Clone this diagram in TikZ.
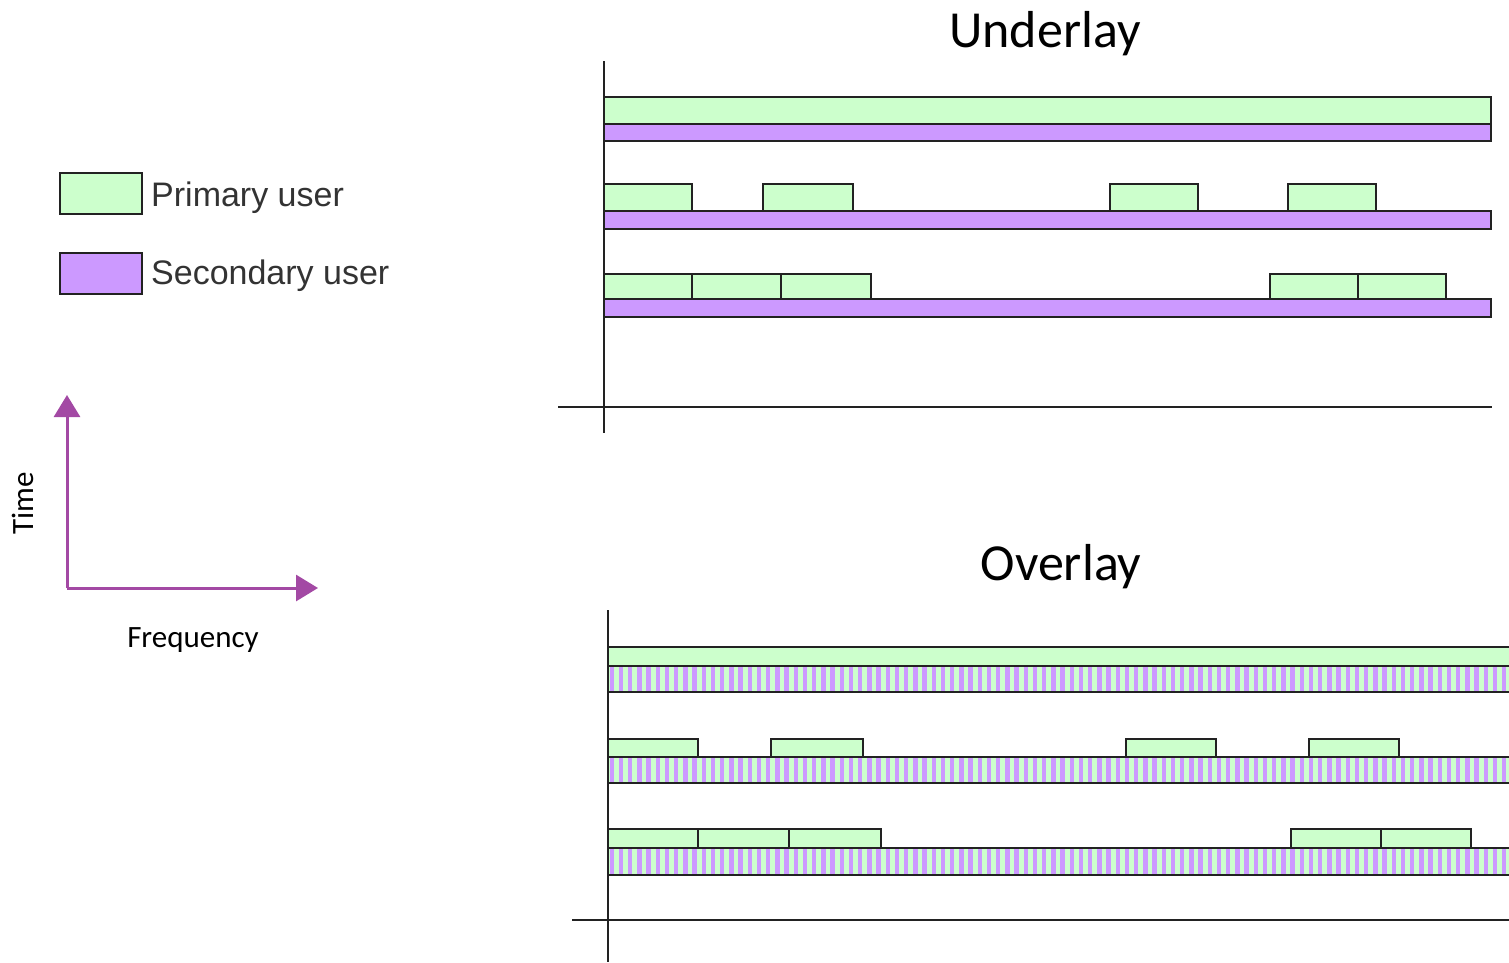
\documentclass[tikz,border=0pt]{standalone}
\usepackage{fontspec}
\setmainfont{Carlito}
\newfontfamily\legendfont{Liberation Sans}
\usetikzlibrary{arrows.meta}
\definecolor{pugreen}{HTML}{CCFFCC}
\definecolor{supurple}{HTML}{CC99FF}
\definecolor{axisarrow}{HTML}{A349A4}
\definecolor{edge}{HTML}{222222}
\tikzset{
  pubar/.style={fill=pugreen, draw=edge, line width=1.8pt},
  subar/.style={fill=supurple, draw=edge, line width=1.8pt},
  axisline/.style={draw=edge, line width=2pt},
  title/.style={font=\fontsize{52}{60}\selectfont, anchor=base},
  legendtext/.style={font=\legendfont\fontsize{34}{40}\selectfont, text=black!80, anchor=base west, inner sep=0pt},
  dirarrow/.style={draw=axisarrow, line width=3pt, -{Triangle[width=26pt,length=22pt]}},
  dirlabel/.style={font=\fontsize{31}{36}\selectfont}
}
% striped bar: green ground with thin purple vertical stripes (period 9.2)
\newcommand\sharedbar[4]{%
  \begin{scope}
    \clip (#1,#2) rectangle (#3,#4);
    \fill[pugreen] (#1,#2) rectangle (#3,#4);
    \foreach \k in {0,...,98}{
      \fill[supurple] ({#1+\k*9.2+1.5},#2) rectangle ({#1+\k*9.2+6},#4);
    }
  \end{scope}
  \draw[draw=edge, line width=1.8pt] (#1,#2) rectangle (#3,#4);
}
\begin{document}
\begin{tikzpicture}[x=1pt,y=-1pt]
\useasboundingbox (0,0) rectangle (1509,962);

% ---------- legend ----------
\draw[pubar] (60,173) rectangle (142,214);
\node[legendtext] (lgp) at (151,206) {Primary user};
\draw[subar] (60,253) rectangle (142,294);
\node[legendtext] (lgs) at (151,284) {Secondary user};

% ---------- time / frequency directions ----------
\coordinate (origin) at (67,588);
\coordinate (tup) at (67,395);
\coordinate (fright) at (318,588);
\draw[dirarrow] (origin) -- (tup);
\draw[dirarrow] (origin) -- (fright);
\node[dirlabel, rotate=90] (timel) at (23,503) {Time};
\node[dirlabel, anchor=base] (freql) at (193,647) {Frequency};

% ---------- underlay ----------
\node[title] (utitle) at (1045,47) {Underlay};
\draw[axisline] (604,61) -- (604,433);
\draw[axisline] (558,407) -- (1492,407);
% row 1
\draw[pubar] (604,97) rectangle (1491,124);
\draw[subar] (604,124) rectangle (1491,141);
% row 2
\foreach \a/\b in {604/692, 763/853, 1110/1198, 1288/1376}
  \draw[pubar] (\a,184) rectangle (\b,211);
\draw[subar] (604,211) rectangle (1491,229);
% row 3
\foreach \a/\b in {604/692, 692/781, 781/871, 1270/1358, 1358/1446}
  \draw[pubar] (\a,274) rectangle (\b,299);
\draw[subar] (604,299) rectangle (1491,317);

% ---------- overlay ----------
\node[title] (otitle) at (1061,580) {Overlay};
\draw[axisline] (608,610) -- (608,962);
\draw[axisline] (572,920) -- (1509,920);
% row 1
\draw[pubar] (608,647) rectangle (1512,666);
\sharedbar{608}{666}{1512}{692}
% row 2
\foreach \a/\b in {608/698, 771/863, 1126/1216, 1309/1399}
  \draw[pubar] (\a,739) rectangle (\b,757);
\sharedbar{608}{757}{1512}{783}
% row 3
\foreach \a/\b in {608/698, 698/789, 789/881, 1291/1381, 1381/1471}
  \draw[pubar] (\a,829) rectangle (\b,848);
\sharedbar{608}{848}{1512}{875}
\end{tikzpicture}
\end{document}
